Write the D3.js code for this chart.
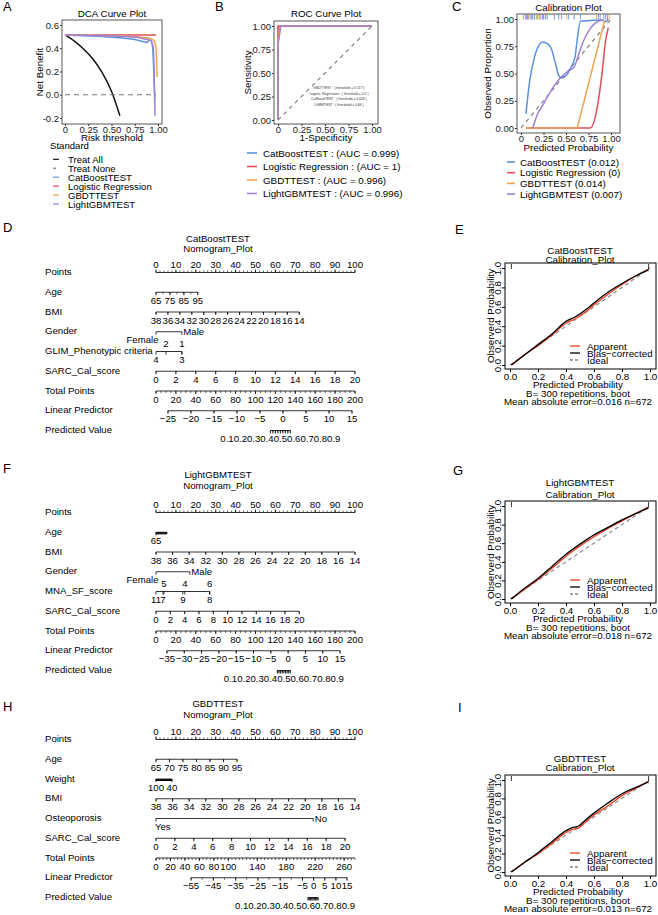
<!DOCTYPE html>
<html>
<head>
<meta charset="utf-8">
<script src="https://cdn.jsdelivr.net/npm/d3@7/dist/d3.min.js"></script>
<style>
  body { margin: 0; background: #fff; }
  svg { display: block; }
  text { font-family: "Liberation Sans", Arial, sans-serif; fill: #000; }
</style>
</head>
<body>
<svg id="fig" width="658" height="915"></svg>
<script>
const svg = d3.select('#fig');

const C_CAT = '#5a92dc', C_LR = '#dc4f5a', C_GBDT = '#f0a14e', C_LGBM = '#9e80d4';

// ---------- A: DCA curves ----------
const dcaTreatAll = [[0, 0.515], [0.1, 0.462], [0.2, 0.394], [0.3, 0.307], [0.4, 0.19], [0.5, 0.03], [0.59, -0.18]];
const dcaTreatNone = [[0, 0], [0.98, 0]];
const dcaCatBoost = [[0, 0.515], [0.2, 0.508], [0.4, 0.5], [0.6, 0.49], [0.75, 0.475], [0.85, 0.455], [0.88, 0.45], [0.9, 0.466], [0.92, 0.47], [0.94, 0.42], [0.955, 0.2], [0.965, -0.05]];
const dcaLogistic = [[0, 0.515], [0.98, 0.515]];
const dcaGBDT = [[0, 0.515], [0.3, 0.512], [0.6, 0.505], [0.8, 0.497], [0.9, 0.488], [0.95, 0.47], [0.975, 0.42], [0.985, 0.3], [0.99, 0.15]];
const dcaLightGBM = [[0, 0.515], [0.3, 0.51], [0.6, 0.502], [0.8, 0.49], [0.88, 0.475], [0.92, 0.465], [0.945, 0.42], [0.955, 0.3], [0.962, 0.05], [0.968, -0.18]];
const dcaXTicks = [0, 0.25, 0.5, 0.75, 1];
const dcaYTicks = [-0.2, 0, 0.2, 0.4, 0.6];
const dcaLegend = ['Treat All', 'Treat None', 'CatBoostTEST', 'Logistic Regression', 'GBDTTEST', 'LightGBMTEST'];

// ---------- B: ROC curves ----------
const rocCatBoost = [[0, 0], [0, 0.97], [0.01, 1], [1, 1]];
const rocLogistic = [[0, 0], [0, 1], [1, 1]];
const rocGBDT = [[0, 0], [0, 0.85], [0.01, 0.93], [0.02, 1], [1, 1]];
const rocLightGBM = [[0, 0], [0, 0.82], [0.01, 0.86], [0.03, 1], [1, 1]];
const rocTicks = [0, 0.25, 0.5, 0.75, 1];
const rocLegend = ['CatBoostTEST : (AUC = 0.999)', 'Logistic Regression  : (AUC = 1)', 'GBDTTEST : (AUC = 0.996)', 'LightGBMTEST : (AUC = 0.996)'];
const rocThresholds = ['GBDTTEST : ( threshold = 0.517 )', 'Logistic Regression : ( threshold = 0.5 )', 'CatBoostTEST : ( threshold = 0.026 )', 'LGBMTEST : ( threshold = 0.66 )'];

// ---------- C: calibration curves ----------
const calCatBoost = [[0.055, 0.13], [0.1, 0.45], [0.15, 0.65], [0.2, 0.76], [0.24, 0.79], [0.3, 0.77], [0.34, 0.72], [0.38, 0.6], [0.42, 0.48], [0.45, 0.46], [0.5, 0.48], [0.55, 0.55], [0.6, 0.65], [0.62, 0.78], [0.66, 0.98], [0.75, 0.985], [0.9, 0.99], [0.94, 0.975], [0.97, 1.0]];
const calLogistic = [[0.055, 0], [0.77, 0], [0.85, 0.2], [0.9, 0.5], [0.94, 0.8], [0.97, 0.92]];
const calGBDT = [[0.055, 0], [0.625, 0], [0.93, 0.99]];
const calLightGBM = [[0.13, 0], [0.18, 0.12], [0.25, 0.22], [0.31, 0.31], [0.38, 0.4], [0.44, 0.46], [0.52, 0.52], [0.59, 0.56], [0.65, 0.7], [0.7, 0.81], [0.76, 0.9], [0.82, 0.96], [0.9, 0.99]];
const rugCatBoost = [0.03, 0.06, 0.08, 0.11, 0.13, 0.15, 0.18, 0.21, 0.24, 0.27, 0.29, 0.37, 0.42, 0.53, 0.59, 0.66, 0.86, 0.92, 0.96];
const rugGBDT = [0.05, 0.09, 0.17, 0.2, 0.22, 0.51, 0.84, 0.98];
const rugLightGBM = [0.07, 0.12, 0.25, 0.45, 0.88, 0.94];
const calTicksC = [0, 0.25, 0.5, 0.75, 1];
const calLegendC = ['CatBoostTEST (0.012)', 'Logistic Regression (0)', 'GBDTTEST (0.014)', 'LightGBMTEST (0.007)'];

// ---------- D/F/H: nomograms ----------
const nomPointsLabels = [0, 10, 20, 30, 40, 50, 60, 70, 80, 90, 100];
const nomBmiLabels = [38, 36, 34, 32, 30, 28, 26, 24, 22, 20, 18, 16, 14];
const nomSarcLabels = [0, 2, 4, 6, 8, 10, 12, 14, 16, 18, 20];
const nomTotal200Labels = [0, 20, 40, 60, 80, 100, 120, 140, 160, 180, 200];
const nomPredLabels = [0.1, 0.2, 0.3, 0.4, 0.5, 0.6, 0.7, 0.8, 0.9];

const nomDAgeLabels = [65, 75, 85, 95];
const nomDAgePts = [0, 21];
const nomDBmiPts = [0, 72];
const nomDGender = [['Female', 0, 'belowLeft'], ['Male', 13, 'right']];
const nomDGlim = [['4', 0, 'below'], ['2', 5, 'above'], ['3', 13, 'below'], ['1', 13, 'above']];
const nomDSarcPts = [0, 100];
const nomDLpLabels = [-25, -20, -15, -10, -5, 0, 5, 10, 15];
const nomDLpTotal = [12, 197];
const nomDPredTotal = [115, 135];

const nomFAgeLabels = [65];
const nomFAgePts = [0, 5.5];
const nomFBmiPts = [0, 100];
const nomFGender = [['Female', 0, 'belowLeft'], ['Male', 17, 'right']];
const nomFMna = [['11', 0, 'below'], ['7', 3.5, 'below'], ['5', 4, 'above'], ['9', 13.5, 'below'], ['4', 14.5, 'above'], ['8', 27, 'below'], ['6', 27, 'above']];
const nomFSarcPts = [0, 72];
const nomFLpLabels = [-35, -30, -25, -20, -15, -10, -5, 0, 5, 10, 15];
const nomFLpTotal = [11, 185];
const nomFPredTotal = [122, 135];

const nomHAgeLabels = [65, 70, 75, 80, 85, 90, 95];
const nomHAgePts = [0, 40.7];
const nomHWeightLabels = [100, 40];
const nomHWeightPts = [0, 8];
const nomHBmiPts = [0, 100];
const nomHOsteo = [['Yes', 0, 'belowStart'], ['No', 79, 'right']];
const nomHSarcPts = [0, 95];
const nomHTotalLabels = [0, 20, 40, 60, 80, 100, 140, 180, 220, 260];
const nomHLpLabels = [-55, -45, -35, -25, -15, -5, 0, 5, 10, 15];
const nomHLpTotal = [48.4, 264];
const nomHPredTotal = [210, 224];

// ---------- E/G/I: bootstrap calibration ----------
const calTicks = [0, 0.2, 0.4, 0.6, 0.8, 1.0];
const calEApparent = [[0.01, 0], [0.1, 0.1], [0.2, 0.2], [0.3, 0.31], [0.4, 0.43], [0.47, 0.48], [0.55, 0.56], [0.6, 0.62], [0.7, 0.73], [0.8, 0.83], [0.9, 0.92], [0.99, 0.99]];
const calEBias = [[0.01, 0], [0.1, 0.1], [0.2, 0.21], [0.3, 0.32], [0.4, 0.45], [0.47, 0.5], [0.55, 0.58], [0.6, 0.64], [0.7, 0.75], [0.8, 0.84], [0.9, 0.92], [0.99, 0.98]];
const calGApparent = [[0.01, 0], [0.1, 0.1], [0.2, 0.21], [0.3, 0.33], [0.4, 0.46], [0.5, 0.57], [0.6, 0.67], [0.7, 0.76], [0.8, 0.84], [0.9, 0.92], [0.99, 0.99]];
const calGBias = [[0.01, 0], [0.1, 0.11], [0.2, 0.22], [0.3, 0.35], [0.4, 0.48], [0.5, 0.59], [0.6, 0.69], [0.7, 0.77], [0.8, 0.85], [0.9, 0.92], [0.99, 0.98]];
const calIApparent = [[0.01, 0], [0.1, 0.1], [0.2, 0.2], [0.3, 0.31], [0.4, 0.43], [0.44, 0.46], [0.49, 0.48], [0.55, 0.56], [0.6, 0.62], [0.7, 0.72], [0.8, 0.83], [0.9, 0.91], [0.99, 0.99]];
const calIBias = [[0.01, 0], [0.1, 0.1], [0.2, 0.21], [0.3, 0.33], [0.4, 0.45], [0.44, 0.48], [0.49, 0.5], [0.55, 0.58], [0.6, 0.64], [0.7, 0.75], [0.8, 0.85], [0.9, 0.92], [0.99, 0.98]];
const calRug = [0.01, 0.99];

// ================= helpers =================
function letter(t, x, y) {
  svg.append('text').attr('x', x).attr('y', y).style('font-size', '13px').text(t);
}

function ggFrame(o) {
  const g = svg.append('g');
  const [x0, y0, x1, y1] = o.box;
  const x = d3.scaleLinear().domain([0, 1]).range(o.xRange);
  const y = d3.scaleLinear().domain(o.yDomain).range(o.yRange);
  g.append('text').attr('x', (x0 + x1) / 2).attr('y', o.titleY).attr('text-anchor', 'middle')
    .style('font-size', '9.8px').text(o.title);
  const xa = g.append('g').attr('transform', `translate(0,${y1})`)
    .call(d3.axisBottom(x).tickValues(o.xTicks).tickFormat(d => d === 0 ? '0' : d.toFixed(2)).tickSize(2).tickPadding(0));
  const ya = g.append('g').attr('transform', `translate(${x0},0)`)
    .call(d3.axisLeft(y).tickValues(o.yTicks).tickFormat(o.yFmt).tickSize(2).tickPadding(1));
  [xa, ya].forEach(a => {
    a.select('.domain').remove();
    a.attr('font-family', null).attr('font-size', null);
    a.selectAll('line').attr('stroke', '#333');
    a.selectAll('text').style('font-size', '9.5px').style('fill', '#222');
  });
  g.append('text').attr('x', (x0 + x1) / 2).attr('y', o.xTitleY).attr('text-anchor', 'middle')
    .style('font-size', '9.8px').text(o.xTitle);
  g.append('text').attr('transform', `translate(${o.yTitleX},${(y0 + y1) / 2}) rotate(-90)`)
    .attr('text-anchor', 'middle').style('font-size', '9.8px').text(o.yTitle);
  const plot = g.append('g');
  g.append('rect').attr('x', x0).attr('y', y0).attr('width', x1 - x0).attr('height', y1 - y0)
    .attr('fill', 'none').attr('stroke', '#444').attr('stroke-width', 0.9);
  return { g, plot, x, y };
}

function drawCurve(p, data, color, width, dash, curve) {
  p.plot.append('path').datum(data)
    .attr('d', d3.line().x(d => p.x(d[0])).y(d => p.y(d[1])).curve(curve || d3.curveLinear))
    .attr('fill', 'none').attr('stroke', color).attr('stroke-width', width)
    .attr('stroke-dasharray', dash || null);
}

function legend(items, lx0, lx1, tx, cy0, step, size) {
  const g = svg.append('g');
  items.forEach((it, i) => {
    const cy = cy0 + i * step;
    g.append('line').attr('x1', lx0).attr('x2', lx1).attr('y1', cy).attr('y2', cy)
      .attr('stroke', it.color).attr('stroke-width', it.width || 1.4).attr('stroke-dasharray', it.dash || null);
    g.append('text').attr('x', tx).attr('y', cy + 3.5).style('font-size', size).text(it.name);
  });
}

// ================= A =================
letter('A', 3, 11);
const pA = ggFrame({
  box: [62, 20, 162, 124], xRange: [65, 158], yDomain: [-0.2, 0.6], yRange: [118, 25],
  xTicks: dcaXTicks, yTicks: dcaYTicks, yFmt: d => d.toFixed(1),
  title: 'DCA Curve Plot', titleY: 17, xTitle: 'Risk threshold', xTitleY: 140.5,
  yTitle: 'Net Benefit', yTitleX: 42.5
});
drawCurve(pA, dcaTreatAll, '#111', 1.5, null, d3.curveMonotoneX);
drawCurve(pA, dcaTreatNone, '#777', 1.2, '5,4');
drawCurve(pA, dcaCatBoost, C_CAT, 1.5, null, d3.curveMonotoneX);
drawCurve(pA, dcaLogistic, C_LR, 1.5);
drawCurve(pA, dcaGBDT, C_GBDT, 1.5, null, d3.curveMonotoneX);
drawCurve(pA, dcaLightGBM, C_LGBM, 1.5, null, d3.curveMonotoneX);
svg.append('text').attr('x', 50).attr('y', 148.5).style('font-size', '9.6px').text('Standard');
legend(dcaLegend.map((n, i) => ({
  name: n, color: ['#111', '#777', C_CAT, C_LR, C_GBDT, C_LGBM][i], width: 1.2, dash: i === 1 ? '3,3' : null
})), 53, 59, 68, 159.3, 8.95, '9.6px');

// ================= B =================
letter('B', 215, 11);
const pB = ggFrame({
  box: [274, 21, 378, 124], xRange: [278, 372], yDomain: [0, 1], yRange: [120, 26],
  xTicks: rocTicks, yTicks: rocTicks, yFmt: d => d.toFixed(2),
  title: 'ROC Curve Plot', titleY: 17, xTitle: '1-Specificity', xTitleY: 140.5,
  yTitle: 'Sensitivity', yTitleX: 250.5
});
drawCurve(pB, [[0, 0], [1, 1]], '#777', 1.1, '4,4');
drawCurve(pB, rocCatBoost, C_CAT, 1.5);
drawCurve(pB, rocLogistic, C_LR, 1.5);
drawCurve(pB, rocGBDT, C_GBDT, 1.5);
drawCurve(pB, rocLightGBM, C_LGBM, 1.5);
pB.g.selectAll('text.thr').data(rocThresholds).join('text').attr('class', 'thr')
  .attr('x', 339).attr('y', (d, i) => 89 + i * 5.6).attr('text-anchor', 'middle')
  .style('font-size', '3.4px').style('fill', '#333').text(d => d);
legend(rocLegend.map((n, i) => ({ name: n, color: [C_CAT, C_LR, C_GBDT, C_LGBM][i], width: 1.6 })),
  247, 257, 263, 153, 13.5, '9.8px');

// ================= C =================
letter('C', 452, 11);
const pC = ggFrame({
  box: [517, 14, 620, 133], xRange: [521, 611], yDomain: [0, 1], yRange: [128, 19],
  xTicks: calTicksC, yTicks: calTicksC, yFmt: d => d.toFixed(2),
  title: 'Calibration Plot', titleY: 10.5, xTitle: 'Predicted Probability', xTitleY: 150.5,
  yTitle: 'Observed Proportion', yTitleX: 490.5
});
drawCurve(pC, [[0, 0], [1, 1]], '#777', 1.1, '4,4');
[[rugCatBoost, C_CAT], [rugGBDT, C_GBDT], [rugLightGBM, C_LGBM]].forEach(([arr, col]) => {
  pC.plot.selectAll(null).data(arr).join('line')
    .attr('x1', d => pC.x(d)).attr('x2', d => pC.x(d)).attr('y1', 14.5).attr('y2', 19.5)
    .attr('stroke', col).attr('stroke-width', 0.9);
});
drawCurve(pC, calCatBoost, C_CAT, 1.5, null, d3.curveMonotoneX);
drawCurve(pC, calLogistic, C_LR, 1.5, null, d3.curveMonotoneX);
drawCurve(pC, calGBDT, C_GBDT, 1.5);
drawCurve(pC, calLightGBM, C_LGBM, 1.5, null, d3.curveMonotoneX);
legend(calLegendC.map((n, i) => ({ name: n, color: [C_CAT, C_LR, C_GBDT, C_LGBM][i], width: 1.6 })),
  507, 515, 520, 162, 10.7, '9.8px');

// ================= nomograms =================
const ROW_STEP = 19.75;

function hline(g, xa, xb, y) {
  g.append('line').attr('x1', xa).attr('x2', xb).attr('y1', y).attr('y2', y)
    .attr('stroke', '#000').attr('stroke-width', 0.8);
}

function fmtNum(v) { return String(v).replace('-', '\u2212'); }

function nomogram(o) {
  const g = svg.append('g').style('font-size', '9.6px');
  const ptsX = d3.scaleLinear().domain([0, 100]).range([156, 355]);
  const totX = d3.scaleLinear().domain(o.totalDomain).range([156, 355]);
  letter(o.letter, 3, o.letterY);
  g.append('text').attr('x', 218).attr('y', o.titleY).attr('text-anchor', 'middle').text(o.title);
  g.append('text').attr('x', 218).attr('y', o.titleY + 10.5).attr('text-anchor', 'middle').text('Nomogram_Plot');

  o.rows.forEach((r, i) => {
    const base = o.top + i * ROW_STEP;
    const ly = base - 2.5;
    g.append('text').attr('x', 45).attr('y', base).text(r.name);
    const axX = r.onTotal ? totX : ptsX;

    if (r.cats) {
      const xs = r.cats.map(c => axX(c[1]));
      hline(g, d3.min(xs), d3.max(xs), ly);
      g.selectAll(null).data(r.cats).join('line')
        .attr('x1', c => axX(c[1])).attr('x2', c => axX(c[1])).attr('y1', ly).attr('y2', ly + 3)
        .attr('stroke', '#000').attr('stroke-width', 0.8);
      r.cats.forEach(c => {
        const cx = axX(c[1]);
        const t = g.append('text').text(c[0]);
        if (c[2] === 'right') t.attr('x', cx + 1.5).attr('y', ly + 3.5);
        else if (c[2] === 'belowLeft') t.attr('x', cx + 2.5).attr('y', ly + 11.5).attr('text-anchor', 'end');
        else if (c[2] === 'belowStart') t.attr('x', cx - 1).attr('y', ly + 11.5);
        else if (c[2] === 'above') t.attr('x', cx).attr('y', ly - 4.5).attr('text-anchor', 'middle');
        else t.attr('x', cx).attr('y', ly + 11.5).attr('text-anchor', 'middle');
      });
      return;
    }

    const toPts = d3.scaleLinear().domain(r.domain).range(r.pts);
    const px = v => axX(toPts(v));
    const dir = r.up ? -1 : 1;
    const lo = Math.min(...r.domain), hi = Math.max(...r.domain);
    hline(g, px(r.domain[0]), px(r.domain[1]), ly);
    g.selectAll(null).data(d3.range(lo, hi + 1e-9, r.step)).join('line')
      .attr('x1', px).attr('x2', px).attr('y1', ly).attr('y2', ly + dir * 2)
      .attr('stroke', '#000').attr('stroke-width', 0.6);
    g.selectAll(null).data(r.labels).join('line')
      .attr('x1', px).attr('x2', px).attr('y1', ly).attr('y2', ly + dir * 3)
      .attr('stroke', '#000').attr('stroke-width', 0.8);

    if (r.spread) {
      // labels are written edge to edge, as R did for the short probability axis
      const texts = r.labels.map(v => g.append('text').text(String(v)));
      const widths = texts.map(t => t.node().getComputedTextLength());
      const total = d3.sum(widths);
      const mid = Math.min((px(lo) + px(hi)) / 2, ptsX(100) - total / 2);
      let cur = mid - total / 2;
      texts.forEach((t, k) => { t.attr('x', cur).attr('y', ly + 11.5); cur += widths[k]; });
    } else {
      g.selectAll(null).data(r.labels).join('text')
        .attr('x', px).attr('y', r.up ? ly - 4.5 : ly + 11.5).attr('text-anchor', 'middle')
        .text(fmtNum);
    }
  });
}

const pointsRow = { name: 'Points', domain: [0, 100], pts: [0, 100], labels: nomPointsLabels, step: 2, up: true };

nomogram({
  letter: 'D', letterY: 232, title: 'CatBoostTEST', titleY: 241.5, top: 275, totalDomain: [0, 200],
  rows: [
    pointsRow,
    { name: 'Age', domain: [65, 95], pts: nomDAgePts, labels: nomDAgeLabels, step: 5 },
    { name: 'BMI', domain: [38, 14], pts: nomDBmiPts, labels: nomBmiLabels, step: 2 },
    { name: 'Gender', cats: nomDGender },
    { name: 'GLIM_Phenotypic criteria', cats: nomDGlim },
    { name: 'SARC_Cal_score', domain: [0, 20], pts: nomDSarcPts, labels: nomSarcLabels, step: 2 },
    { name: 'Total Points', domain: [0, 200], pts: [0, 200], labels: nomTotal200Labels, step: 5, onTotal: true },
    { name: 'Linear Predictor', domain: [-25, 15], pts: nomDLpTotal, labels: nomDLpLabels, step: 5, onTotal: true },
    { name: 'Predicted Value', domain: [0.1, 0.9], pts: nomDPredTotal, labels: nomPredLabels, step: 0.1, onTotal: true, spread: true }
  ]
});

nomogram({
  letter: 'F', letterY: 473, title: 'LightGBMTEST', titleY: 478, top: 515, totalDomain: [0, 200],
  rows: [
    pointsRow,
    { name: 'Age', domain: [65, 95], pts: nomFAgePts, labels: nomFAgeLabels, step: 1 },
    { name: 'BMI', domain: [38, 14], pts: nomFBmiPts, labels: nomBmiLabels, step: 2 },
    { name: 'Gender', cats: nomFGender },
    { name: 'MNA_SF_score', cats: nomFMna },
    { name: 'SARC_Cal_score', domain: [0, 20], pts: nomFSarcPts, labels: nomSarcLabels, step: 2 },
    { name: 'Total Points', domain: [0, 200], pts: [0, 200], labels: nomTotal200Labels, step: 5, onTotal: true },
    { name: 'Linear Predictor', domain: [-35, 15], pts: nomFLpTotal, labels: nomFLpLabels, step: 5, onTotal: true },
    { name: 'Predicted Value', domain: [0.1, 0.9], pts: nomFPredTotal, labels: nomPredLabels, step: 0.1, onTotal: true, spread: true }
  ]
});

nomogram({
  letter: 'H', letterY: 711, title: 'GBDTTEST', titleY: 707, top: 742, totalDomain: [0, 275],
  rows: [
    pointsRow,
    { name: 'Age', domain: [65, 95], pts: nomHAgePts, labels: nomHAgeLabels, step: 5 },
    { name: 'Weight', domain: [100, 40], pts: nomHWeightPts, labels: nomHWeightLabels, step: 1 },
    { name: 'BMI', domain: [38, 14], pts: nomHBmiPts, labels: nomBmiLabels, step: 2 },
    { name: 'Osteoporosis', cats: nomHOsteo },
    { name: 'SARC_Cal_score', domain: [0, 20], pts: nomHSarcPts, labels: nomSarcLabels, step: 2 },
    { name: 'Total Points', domain: [0, 275], pts: [0, 275], labels: nomHTotalLabels, step: 5, onTotal: true },
    { name: 'Linear Predictor', domain: [-55, 15], pts: nomHLpTotal, labels: nomHLpLabels, step: 5, onTotal: true },
    { name: 'Predicted Value', domain: [0.1, 0.9], pts: nomHPredTotal, labels: nomPredLabels, step: 0.1, onTotal: true, spread: true }
  ]
});

// ================= E / G / I =================
function calPanel(o) {
  const g = svg.append('g').style('font-size', '9.8px');
  const x = d3.scaleLinear().domain([0, 1]).range([510, 650]);
  const y = d3.scaleLinear().domain([0, 1]).range([o.bottom - 4, o.top + 5]);
  letter(o.letter, o.letterX, o.letterY);
  g.append('text').attr('x', 580).attr('y', o.titleY[0]).attr('text-anchor', 'middle').text(o.title);
  g.append('text').attr('x', 580).attr('y', o.titleY[1]).attr('text-anchor', 'middle').text('Calibration_Plot');

  const xa = g.append('g').attr('transform', `translate(0,${o.bottom})`)
    .call(d3.axisBottom(x).tickValues(calTicks).tickFormat(d3.format('.1f')).tickSize(3).tickPadding(1));
  const ya = g.append('g').attr('transform', 'translate(505,0)')
    .call(d3.axisLeft(y).tickValues(calTicks).tickFormat(d3.format('.1f')).tickSize(3));
  [xa, ya].forEach(a => {
    a.select('.domain').remove();
    a.attr('font-family', null).attr('font-size', null);
    a.selectAll('line').attr('stroke', '#000');
  });
  ya.selectAll('text').attr('x', 0).attr('dy', null).attr('text-anchor', 'middle')
    .attr('transform', 'translate(-4,0) rotate(-90)');

  g.append('text').attr('transform', `translate(493.5,${(o.top + o.bottom) / 2}) rotate(-90)`)
    .attr('text-anchor', 'middle').text('Observerd Probability');
  g.append('text').attr('x', 578).attr('y', o.bottom + 19).attr('text-anchor', 'middle').text('Predicted Probability');
  g.append('text').attr('x', 578).attr('y', o.bottom + 28).attr('text-anchor', 'middle').text('B= 300 repetitions, boot');
  g.append('text').attr('x', 578).attr('y', o.bottom + 36).attr('text-anchor', 'middle')
    .text(`Mean absolute error=${o.mae} n=672`);

  const line = d3.line().x(d => x(d[0])).y(d => y(d[1])).curve(d3.curveMonotoneX);
  g.append('path').datum([[0, 0], [1, 1]]).attr('d', line).attr('fill', 'none')
    .attr('stroke', '#888').attr('stroke-width', 1.1).attr('stroke-dasharray', '4,3');
  g.append('path').datum(o.apparent).attr('d', line).attr('fill', 'none')
    .attr('stroke', '#f03c1e').attr('stroke-width', 1.3);
  g.append('path').datum(o.bias).attr('d', line).attr('fill', 'none')
    .attr('stroke', '#000').attr('stroke-width', 1.3);
  g.selectAll(null).data(calRug).join('line')
    .attr('x1', d => x(d)).attr('x2', d => x(d)).attr('y1', o.top + 1).attr('y2', o.top + 6)
    .attr('stroke', '#000').attr('stroke-width', 0.8);

  g.append('rect').attr('x', 505).attr('y', o.top).attr('width', 151).attr('height', o.bottom - o.top)
    .attr('fill', 'none').attr('stroke', '#000').attr('stroke-width', 1);

  [['Apparent', '#f03c1e', null], ['Bias\u2212corrected', '#000', null], ['Ideal', '#888', '3,2']].forEach((it, i) => {
    const by = o.bottom - 19.5 + i * 7;
    g.append('line').attr('x1', 570).attr('x2', 580).attr('y1', by - 3.5).attr('y2', by - 3.5)
      .attr('stroke', it[1]).attr('stroke-width', 1.3).attr('stroke-dasharray', it[2]);
    g.append('text').attr('x', 587).attr('y', by).text(it[0]);
  });
}

calPanel({ letter: 'E', letterX: 455, letterY: 234, title: 'CatBoostTEST', titleY: [254, 262.5],
  top: 263, bottom: 369, mae: '0.016', apparent: calEApparent, bias: calEBias });
calPanel({ letter: 'G', letterX: 453, letterY: 475, title: 'LightGBMTEST', titleY: [486, 498],
  top: 501, bottom: 603, mae: '0.018', apparent: calGApparent, bias: calGBias });
calPanel({ letter: 'I', letterX: 458, letterY: 712, title: 'GBDTTEST', titleY: [761.5, 771],
  top: 775, bottom: 876, mae: '0.013', apparent: calIApparent, bias: calIBias });
</script>
</body>
</html>
